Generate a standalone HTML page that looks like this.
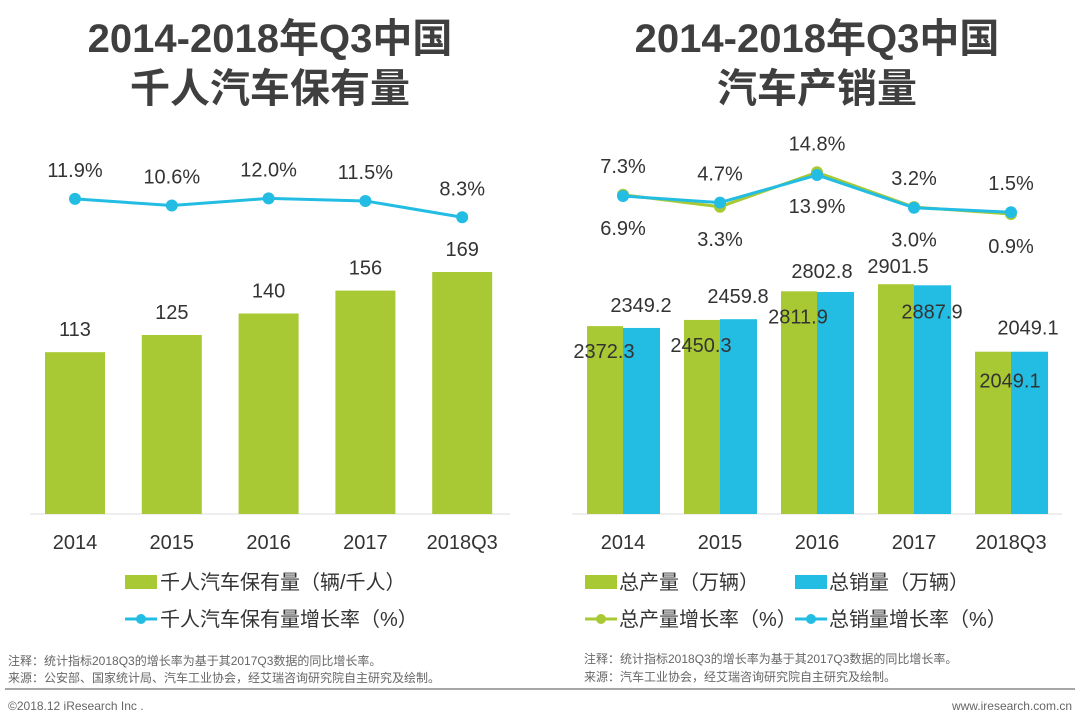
<!DOCTYPE html>
<html><head><meta charset="utf-8">
<style>
body{margin:0;background:#fff;}
svg{display:block;font-family:"Liberation Sans","Noto Sans CJK SC",sans-serif;}
</style></head>
<body>
<svg id="c" width="1080" height="722" viewBox="0 0 1080 722">
<text x="270" y="52" text-anchor="middle" font-size="40" font-weight="bold" fill="#3f3f3f">2014-2018年Q3中国</text>
<text x="270" y="102" text-anchor="middle" font-size="40" font-weight="bold" fill="#3f3f3f">千人汽车保有量</text>
<text x="817" y="52" text-anchor="middle" font-size="40" font-weight="bold" fill="#3f3f3f">2014-2018年Q3中国</text>
<text x="817" y="102" text-anchor="middle" font-size="40" font-weight="bold" fill="#3f3f3f">汽车产销量</text>
<line x1="30" y1="514" x2="510" y2="514" stroke="#ddd"/>
<line x1="572" y1="514" x2="1062" y2="514" stroke="#ddd"/>
<g id="L"></g><g id="R"></g>
<rect x="125" y="575" width="32" height="14" fill="#a8c933"/>
<text x="160" y="589" font-size="20" fill="#333">千人汽车保有量（辆/千人）</text>
<line x1="125" y1="619" x2="157" y2="619" stroke="#23bde4" stroke-width="3"/><circle cx="141" cy="619" r="5" fill="#23bde4"/>
<text x="160" y="626" font-size="20" fill="#333">千人汽车保有量增长率（%）</text>
<rect x="585" y="575" width="32" height="14" fill="#a8c933"/>
<text x="619" y="589" font-size="20" fill="#333">总产量（万辆）</text>
<rect x="795" y="575" width="32" height="14" fill="#23bde4"/>
<text x="829" y="589" font-size="20" fill="#333">总销量（万辆）</text>
<line x1="585" y1="619" x2="617" y2="619" stroke="#a8c933" stroke-width="3"/><circle cx="601" cy="619" r="5" fill="#a8c933"/>
<text x="619" y="626" font-size="20" fill="#333">总产量增长率（%）</text>
<line x1="795" y1="619" x2="827" y2="619" stroke="#23bde4" stroke-width="3"/><circle cx="811" cy="619" r="5" fill="#23bde4"/>
<text x="829" y="626" font-size="20" fill="#333">总销量增长率（%）</text>
<text x="8" y="665" font-size="12" fill="#666">注释：统计指标2018Q3的增长率为基于其2017Q3数据的同比增长率。</text>
<text x="8" y="682" font-size="12" fill="#666">来源：公安部、国家统计局、汽车工业协会，经艾瑞咨询研究院自主研究及绘制。</text>
<text x="584" y="663" font-size="12" fill="#666">注释：统计指标2018Q3的增长率为基于其2017Q3数据的同比增长率。</text>
<text x="584" y="681" font-size="12" fill="#666">来源：汽车工业协会，经艾瑞咨询研究院自主研究及绘制。</text>
<line x1="5" y1="689" x2="1075" y2="689" stroke="#888" stroke-width="1.5"/>
<text x="8" y="710" font-size="12" fill="#666">©2018.12 iResearch Inc .</text>
<text x="1072" y="710" text-anchor="end" font-size="12" fill="#666">www.iresearch.com.cn</text>
</svg>
<script>
const categories = ["2014","2015","2016","2017","2018Q3"];
const ownership = [113,125,140,156,169];
const ownershipGrowth = [11.9,10.6,12.0,11.5,8.3];
const production = [2372.3,2450.3,2811.9,2901.5,2049.1];
const sales = [2349.2,2459.8,2802.8,2887.9,2049.1];
const productionGrowth = [7.3,3.3,14.8,3.2,0.9];
const salesGrowth = [6.9,4.7,13.9,3.0,1.5];

const NS="http://www.w3.org/2000/svg";
function mk(p,tag,a){const e=document.createElementNS(NS,tag);for(const k in a)e.setAttribute(k,a[k]);p.appendChild(e);return e;}
const BASE=514;
// Left chart
const L=document.getElementById('L');
const lx=i=>75+i*96.8;
const ly=v=>BASE-v*1.432;
const lg=v=>259.6-v*5.1;
categories.forEach((c,i)=>{
  const r=mk(L,'rect',{x:lx(i)-30,y:ly(ownership[i]),width:60,height:BASE-ly(ownership[i]),fill:'#a8c933'});
  
  
  const t=mk(L,'text',{x:lx(i),y:ly(ownership[i])-16,'text-anchor':'middle','font-size':20,fill:'#333'});t.textContent=ownership[i];
  
  
  const xl=mk(L,'text',{x:lx(i),y:549,'text-anchor':'middle','font-size':20,fill:'#333'});xl.textContent=c;
  
  
});
const lp=mk(L,'polyline',{points:ownershipGrowth.map((v,i)=>lx(i)+','+lg(v)).join(' '),fill:'none',stroke:'#23bde4','stroke-width':3});


ownershipGrowth.forEach((v,i)=>{
  const d=mk(L,'circle',{cx:lx(i),cy:lg(v),r:6,fill:'#23bde4'});
  
  
  const t=mk(L,'text',{x:lx(i),y:lg(v)-22,'text-anchor':'middle','font-size':20,fill:'#333'});t.textContent=v.toFixed(1)+'%';
  
  
});
// Right chart
const R=document.getElementById('R');
const rx=i=>623+i*97;
const ry=v=>BASE-v*0.0792;
const rg=v=>216.7-v*3;
const pOff=[[-19,32],[-19,32],[-19,32],[-16,-11],[-1,36]];
const sOff=[[18,-16],[18,-16],[5,-14],[18,33],[17,-17]];
categories.forEach((c,i)=>{
  const g=mk(R,'rect',{x:rx(i)-36,y:ry(production[i]),width:36,height:BASE-ry(production[i]),fill:'#a8c933'});
  
  
  const b=mk(R,'rect',{x:rx(i),y:ry(sales[i]),width:37,height:BASE-ry(sales[i]),fill:'#23bde4'});
  
  
  const pt=mk(R,'text',{x:rx(i)+pOff[i][0],y:ry(production[i])+pOff[i][1],'text-anchor':'middle','font-size':20,fill:'#333'});pt.textContent=production[i].toFixed(1);
  
  
  const st=mk(R,'text',{x:rx(i)+sOff[i][0],y:ry(sales[i])+sOff[i][1],'text-anchor':'middle','font-size':20,fill:'#333'});st.textContent=sales[i].toFixed(1);
  
  
  const xl=mk(R,'text',{x:rx(i),y:549,'text-anchor':'middle','font-size':20,fill:'#333'});xl.textContent=c;
  
  
});
const pl=mk(R,'polyline',{points:productionGrowth.map((v,i)=>rx(i)+','+rg(v)).join(' '),fill:'none',stroke:'#a8c933','stroke-width':3});


productionGrowth.forEach((v,i)=>{
  const d=mk(R,'circle',{cx:rx(i),cy:rg(v),r:6,fill:'#a8c933'});
  
  
});
const sl=mk(R,'polyline',{points:salesGrowth.map((v,i)=>rx(i)+','+rg(v)).join(' '),fill:'none',stroke:'#23bde4','stroke-width':3});


salesGrowth.forEach((v,i)=>{
  const d=mk(R,'circle',{cx:rx(i),cy:rg(v),r:6,fill:'#23bde4'});
  
  
});
categories.forEach((c,i)=>{
  const hi=Math.max(productionGrowth[i],salesGrowth[i]), lo=Math.min(productionGrowth[i],salesGrowth[i]);
  const top=Math.min(rg(productionGrowth[i]),rg(salesGrowth[i])), bot=Math.max(rg(productionGrowth[i]),rg(salesGrowth[i]));
  const t1=mk(R,'text',{x:rx(i),y:top-22,'text-anchor':'middle','font-size':20,fill:'#333'});t1.textContent=hi.toFixed(1)+'%';
  
  
  const t2=mk(R,'text',{x:rx(i),y:bot+(i==2?38:39),'text-anchor':'middle','font-size':20,fill:'#333'});t2.textContent=lo.toFixed(1)+'%';
  
  
});
</script>
</body></html>
